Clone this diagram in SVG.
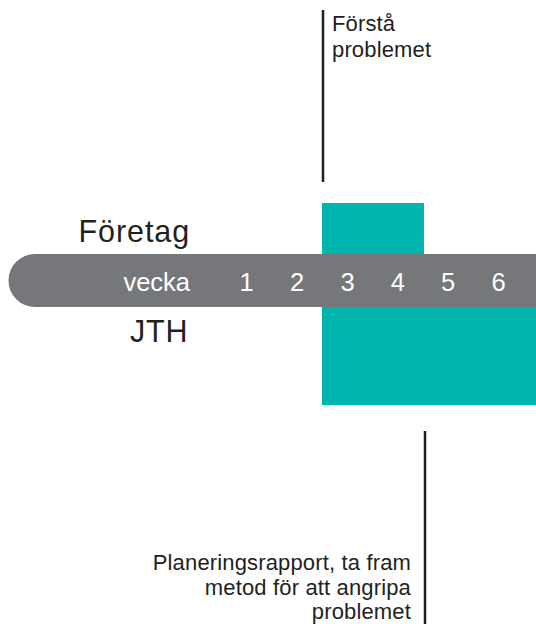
<svg xmlns="http://www.w3.org/2000/svg" width="536" height="624" viewBox="0 0 536 624">
<style>
.t{font-family:"Liberation Sans",Arial,sans-serif;fill:#231f20}
.big{font-size:30.5px;letter-spacing:0.9px}
.small{font-size:22px;letter-spacing:0.15px}
.bar{font-family:"Liberation Sans",Arial,sans-serif;fill:#ffffff;font-size:25.5px;text-anchor:middle}
.teal{fill:#00b5ad}
.ln{stroke:#231f20;stroke-width:2.5;fill:none}
</style>
<rect width="536" height="624" fill="#ffffff"/>
<g id="foretag-block"><rect class="teal" x="322" y="203" width="102" height="52"/></g>
<g id="jth-block"><rect class="teal" x="322" y="306" width="214" height="99"/></g>
<g id="timeline">
<path d="M35,254 H536 V307 H35 A26.5,26.5 0 0 1 35,254 Z" fill="#76777b"/>
<text class="bar" x="190" y="291" style="text-anchor:end">vecka</text>
<text class="bar" x="246.5" y="291">1</text>
<text class="bar" x="297" y="291">2</text>
<text class="bar" x="347.5" y="291">3</text>
<text class="bar" x="397.8" y="291">4</text>
<text class="bar" x="448" y="291">5</text>
<text class="bar" x="498.5" y="291">6</text>
</g>
<g id="label-foretag"><text class="t big" x="190" y="242" text-anchor="end">Företag</text></g>
<g id="label-jth"><text class="t big" x="188.5" y="342" text-anchor="end">JTH</text></g>
<g id="connectors">
<line class="ln" x1="323" y1="10" x2="323" y2="182"/>
<line class="ln" x1="425" y1="431" x2="425" y2="624"/>
</g>
<g id="note-forsta">
<text class="t small" x="332" y="31">Förstå</text>
<text class="t small" x="332" y="57">problemet</text>
</g>
<g id="note-planering">
<text class="t small" x="411" y="569.5" text-anchor="end">Planeringsrapport, ta fram</text>
<text class="t small" x="411" y="594.5" text-anchor="end">metod för att angripa</text>
<text class="t small" x="411" y="619" text-anchor="end">problemet</text>
</g>
</svg>
